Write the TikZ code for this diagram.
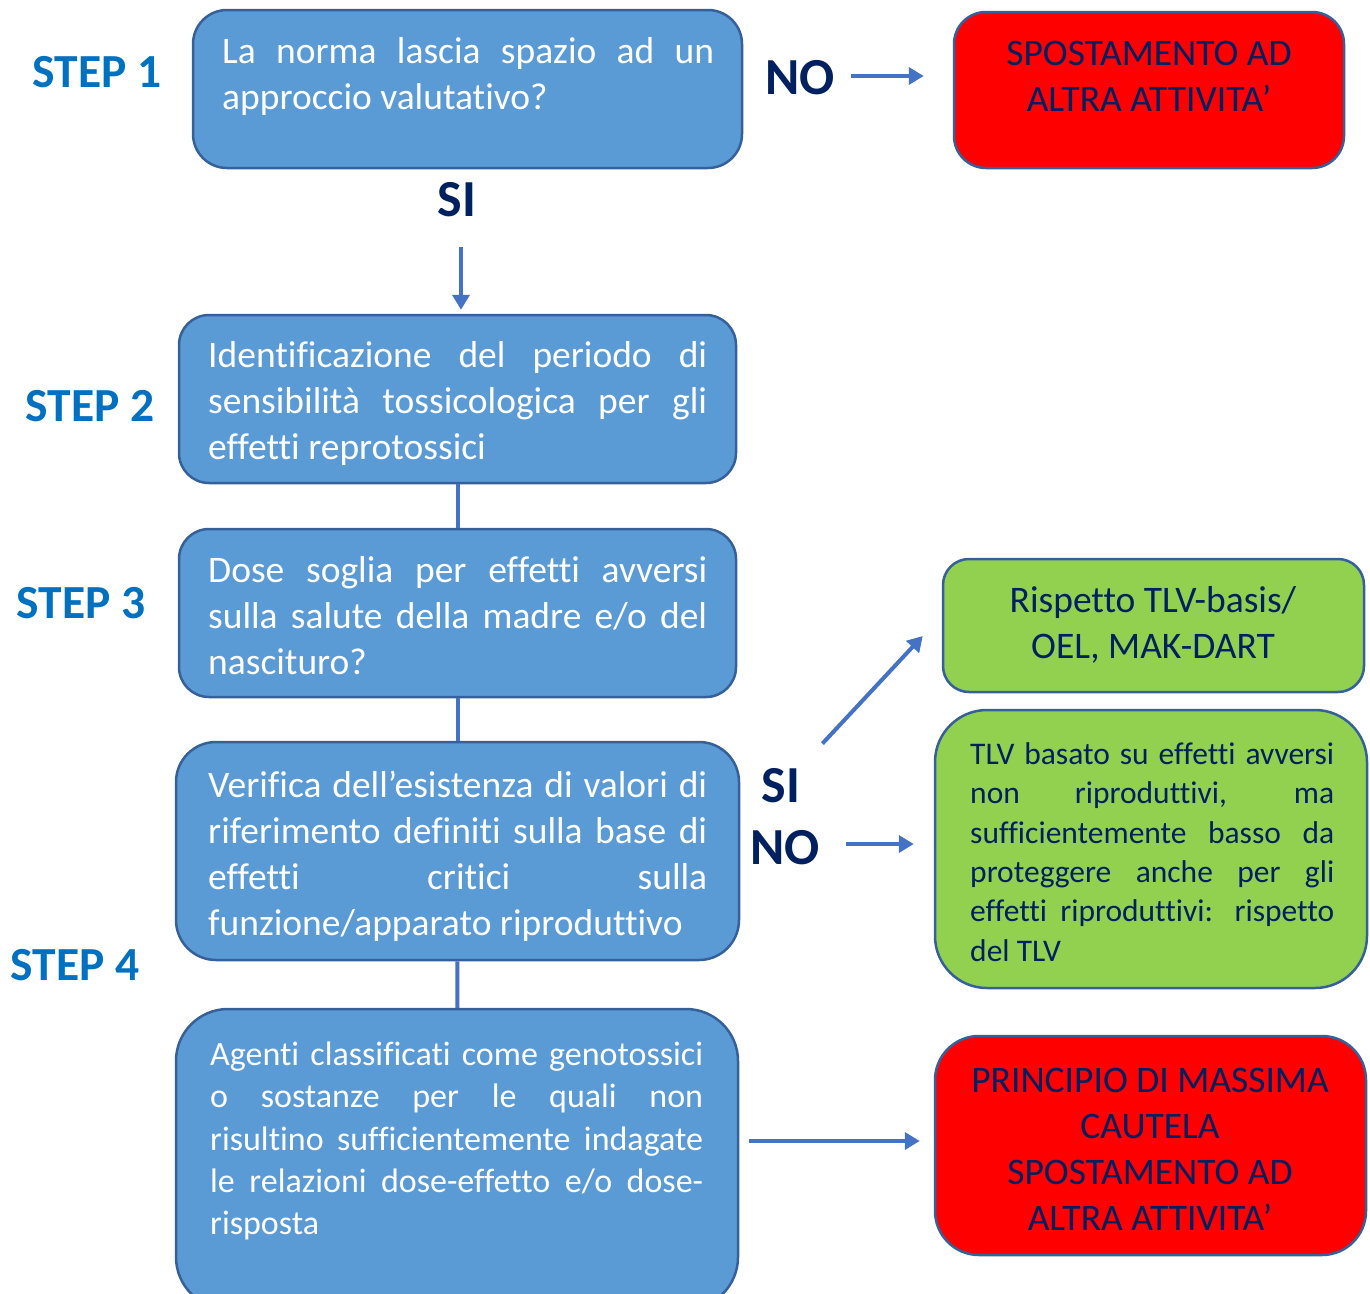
\documentclass[tikz,border=0pt]{standalone}
\usepackage{fontspec}
\setmainfont{Carlito}[Ligatures={NoCommon}]
\usetikzlibrary{arrows.meta,calc}
\definecolor{boxblue}{HTML}{5B9BD5}
\definecolor{edgeblue}{HTML}{35609A}
\definecolor{arrblue}{HTML}{4472C4}
\definecolor{stepblue}{HTML}{0070C0}
\definecolor{navy}{HTML}{002060}
\definecolor{redfill}{HTML}{FF0000}
\definecolor{greenfill}{HTML}{92D050}
\newcommand{\jline}[2]{\makebox[#1][s]{#2}}
\begin{document}
\begin{tikzpicture}[x=1pt,y=-1pt,
  box/.style={draw=edgeblue, line width=2.5pt, rectangle, inner sep=0pt},
  bluebox/.style={box, fill=boxblue},
  redbox/.style={box, fill=redfill},
  greenbox/.style={box, fill=greenfill},
  bodytext/.style={inner sep=0pt, align=left, text=white, font=\fontsize{37.5}{46}\selectfont},
  smalltext/.style={inner sep=0pt, align=left, text=white, font=\fontsize{34}{42.2}\selectfont},
  navytext/.style={inner sep=0pt, align=center, text=navy, font=\fontsize{37.5}{46}\selectfont},
  steplabel/.style={inner sep=0pt, text=stepblue, font=\fontsize{47.5}{50}\selectfont\bfseries},
  answer/.style={inner sep=0pt, text=navy, font=\fontsize{52}{56}\selectfont\bfseries},
  conn/.style={draw=arrblue, line width=4pt},
  arr/.style={conn, -{Triangle[length=15pt,width=17pt]}}
]
\useasboundingbox (0,0) rectangle (1370,1293);

% blue boxes
\node[bluebox, rounded corners=34pt, minimum width=549pt, minimum height=158pt] (b1) at (467.5,89) {};
\node[bluebox, rounded corners=30pt, minimum width=557pt, minimum height=168pt] (b2) at (457.5,399) {};
\node[bluebox, rounded corners=30pt, minimum width=557pt, minimum height=168pt] (b3) at (457.5,613) {};
\node[bluebox, rounded corners=40pt, minimum width=563pt, minimum height=218pt] (b4) at (457.5,851) {};
\node[bluebox, rounded corners=52pt, minimum width=562pt, minimum height=300pt] (b5) at (457,1159) {};

% outcome boxes
\node[redbox, rounded corners=32pt, minimum width=390pt, minimum height=156pt] (r1) at (1149,90) {};
\node[greenbox, rounded corners=26pt, minimum width=421pt, minimum height=133pt] (g1) at (1153.5,625.5) {};
\node[greenbox, rounded corners=52pt, minimum width=432pt, minimum height=278pt] (g2) at (1151,849) {};
\node[redbox, rounded corners=44pt, minimum width=431pt, minimum height=219pt] (r2) at (1150.5,1145.5) {};

% texts of blue boxes
\node[bodytext, anchor=west] (t1) at (222,76) {\jline{492pt}{La norma lascia spazio ad un}\\approccio valutativo?};
\node[bodytext, anchor=west] (t2) at (208,403) {\jline{499pt}{Identificazione del periodo di}\\\jline{499pt}{sensibilità tossicologica per gli}\\effetti reprotossici};
\node[bodytext, anchor=west] (t3) at (208,616) {\jline{499pt}{Dose soglia per effetti avversi}\\\jline{499pt}{sulla salute della madre e/o del}\\nascituro?};
\node[bodytext, anchor=west] (t4) at (208,856) {\jline{499pt}{Verifica dell’esistenza di valori di}\\\jline{499pt}{riferimento definiti sulla base di}\\\jline{499pt}{effetti critici sulla}\\funzione/apparato riproduttivo};
\node[smalltext, anchor=west] (t5) at (210,1141) {\jline{493pt}{Agenti classificati come genotossici}\\\jline{493pt}{o sostanze per le quali non}\\\jline{493pt}{risultino sufficientemente indagate}\\\jline{493pt}{le relazioni dose-effetto e/o dose-}\\risposta};

% texts of outcome boxes
\node[navytext] (tr1) at (1149,76) {SPOSTAMENTO AD\\ALTRA ATTIVITA’};
\node[navytext] (tg1) at (1153,625) {Rispetto TLV-basis/\\OEL, MAK-DART};
\node[inner sep=0pt, align=left, text=navy, font=\fontsize{31.5}{39.4}\selectfont, anchor=west] (tg2) at (970,852) {\jline{364pt}{TLV basato su effetti avversi}\\\jline{364pt}{non riproduttivi, ma}\\\jline{364pt}{sufficientemente basso da}\\\jline{364pt}{proteggere anche per gli}\\\jline{364pt}{effetti riproduttivi: rispetto}\\del TLV};
\node[navytext] (tr2) at (1150,1149) {PRINCIPIO DI MASSIMA\\CAUTELA\\SPOSTAMENTO AD\\ALTRA ATTIVITA’};

% step labels
\node[steplabel] (s1) at (97,72) {STEP 1};
\node[steplabel] (s2) at (90,406) {STEP 2};
\node[steplabel] (s3) at (81,603) {STEP 3};
\node[steplabel] (s4) at (75,965) {STEP 4};

% answers
\node[answer] (si1) at (457,200) {SI};
\node[answer] (no1) at (800,78) {NO};
\node[answer] (si2) at (781,786) {SI};
\node[answer] (no2) at (785,848) {NO};

% connectors
\draw[arr, shorten <=30pt, shorten >=4pt] ([xshift=4pt]si1.south) -- ([xshift=4pt]si1.south |- b2.north);
\draw[conn] (b2) -- (b3);
\draw[conn] (b3) -- (b4);
\draw[conn] (b4) -- (b5);
\draw[arr, shorten <=16pt, shorten >=29pt] ([yshift=2pt]no1.east) -- ([yshift=2pt]no1.east -| r1.west);
\draw[arr] ($(si2.north east)+(22,-25)$) -- ($(g1.west)+(-19,10.5)$);
\draw[arr, shorten <=26pt, shorten >=20pt] ([yshift=4pt]no2.east) -- ([yshift=4pt]no2.east -| g2.west);
\draw[arr, shorten <=10pt, shorten >=14pt] ([yshift=4.5pt]r2.west -| b5.east) -- ([yshift=4.5pt]r2.west);
\end{tikzpicture}
\end{document}
